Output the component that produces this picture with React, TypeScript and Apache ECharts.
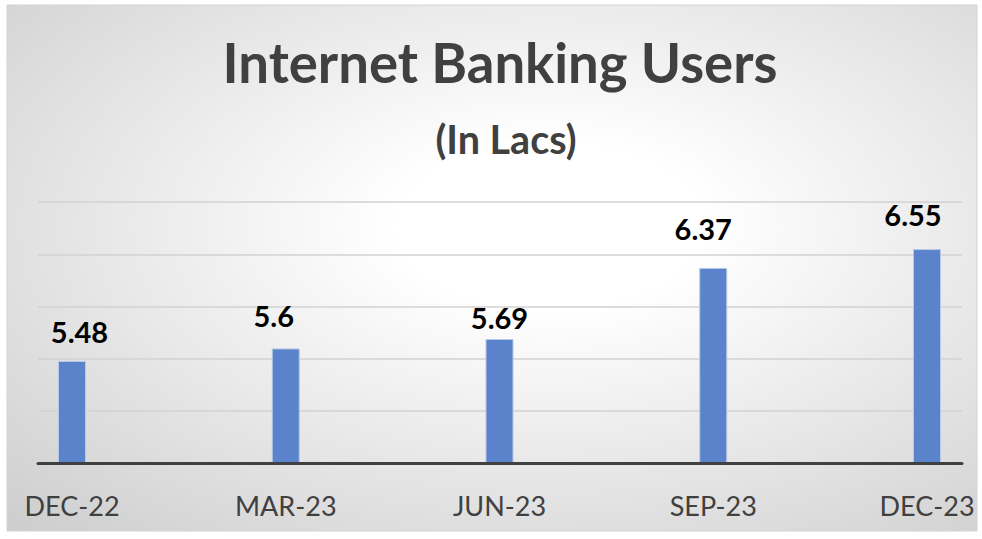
import React, { useEffect, useRef } from "react";
import * as echarts from "echarts";

const categories = ["DEC-22", "MAR-23", "JUN-23", "SEP-23", "DEC-23"];
const values = [5.48, 5.6, 5.69, 6.37, 6.55];
const yMin = 4.5;
const yMax = 7;
const yStep = 0.5;
const titleText = "Internet Banking Users";
const subtitleText = "(In Lacs)";

// manual nudges of data labels (as placed in the original)
const labelDx = [7.5, -12, 0, -10, -14];
const labelDy = [-3, -6, 5, -13, -8];

const FONT = "Lato, 'Open Sans', sans-serif";
const TEXT_COLOR = "#404040";

export default function App() {
  const ref = useRef<HTMLDivElement>(null);

  useEffect(() => {
    document.body.style.margin = "0";
    if (!ref.current) return;
    const chart = echarts.init(ref.current, null, { renderer: "svg" });
    const option = {
      animation: false,
      backgroundColor: "#ffffff",
      graphic: [
        {
          type: "rect",
          z: -1,
          silent: true,
          shape: { x: 7, y: 5, width: 970, height: 526 },
          style: {
            fill: new echarts.graphic.RadialGradient(0.56, 0.42, 1.05, [
              { offset: 0, color: "#ffffff" },
              { offset: 0.15, color: "#ffffff" },
              { offset: 1, color: "#bababa" },
            ]),
            stroke: "#d4d4d4",
            lineWidth: 1,
          },
        },
        {
          type: "text",
          silent: true,
          x: 500,
          y: 62,
          style: {
            text: titleText,
            font: `bold 54.5px ${FONT}`,
            fill: TEXT_COLOR,
            align: "center",
            verticalAlign: "middle",
          },
        },
        {
          type: "text",
          silent: true,
          x: 506,
          y: 138,
          style: {
            text: subtitleText,
            font: `bold 39.5px ${FONT}`,
            fill: TEXT_COLOR,
            align: "center",
            verticalAlign: "middle",
          },
        },
      ],
      grid: [
        { left: 38, right: 20, top: 202, bottom: 75.5 },
        { left: 72, right: 55, top: 202, bottom: 75.5 },
      ],
      xAxis: [
        {
          gridIndex: 0,
          type: "category",
          data: categories,
          z: 5,
          axisLine: { lineStyle: { color: TEXT_COLOR, width: 3 } },
          axisTick: { show: false },
          axisLabel: { show: false },
        },
        {
          gridIndex: 1,
          type: "category",
          boundaryGap: false,
          data: categories,
          axisLine: { show: false },
          axisTick: { show: false },
          axisLabel: {
            interval: 0,
            fontFamily: FONT,
            fontSize: 27,
            color: TEXT_COLOR,
            margin: 28,
          },
        },
      ],
      yAxis: [
        {
          gridIndex: 0,
          type: "value",
          min: yMin,
          max: yMax,
          interval: yStep,
          axisLabel: { show: false },
          axisLine: { show: false },
          axisTick: { show: false },
          splitLine: { lineStyle: { color: "#d2d2d2", width: 1.5 } },
        },
        {
          gridIndex: 1,
          type: "value",
          min: yMin,
          max: yMax,
          interval: yStep,
          axisLabel: { show: false },
          axisLine: { show: false },
          axisTick: { show: false },
          splitLine: { show: false },
        },
      ],
      series: [
        {
          type: "bar",
          xAxisIndex: 1,
          yAxisIndex: 1,
          data: values.map((v, i) => ({
            value: v,
            label: { offset: [labelDx[i], labelDy[i]] },
          })),
          barWidth: 28,
          itemStyle: { color: "#5a83cc", borderColor: "#b8c9e8", borderWidth: 1 },
          label: {
            show: true,
            position: "top",
            distance: 12,
            fontFamily: FONT,
            fontWeight: "bold",
            fontSize: 29,
            color: "#000000",
          },
        },
      ],
    };
    chart.setOption(option);
    return () => chart.dispose();
  }, []);

  return <div ref={ref} style={{ width: 982, height: 539 }} />;
}
